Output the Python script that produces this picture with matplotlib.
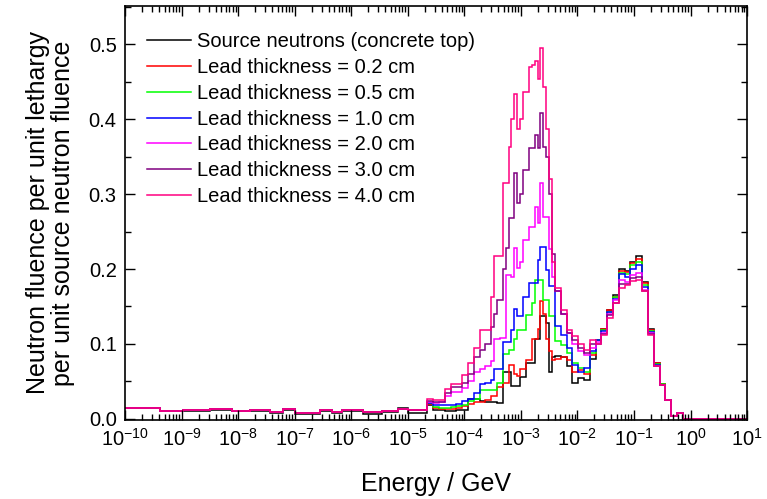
import numpy as np
import matplotlib
matplotlib.use('Agg')
import matplotlib.pyplot as plt
from matplotlib import ticker

plt.rcParams['font.family'] = ['Liberation Sans', 'DejaVu Sans']
plt.rcParams['mathtext.fontset'] = 'custom'
plt.rcParams['mathtext.rm'] = 'Liberation Sans'
plt.rcParams['mathtext.it'] = 'Liberation Sans:italic'
plt.rcParams['mathtext.bf'] = 'Liberation Sans:bold'

# bin edges as log10(E / GeV)
low_edges = [-10.0, -9.381, -8.973, -8.496, -8.106, -7.788, -7.434, -7.204,
             -6.991, -6.549, -6.336, -6.159, -5.788, -5.451, -5.168, -4.991]
peak_edges = [-4.655, -4.552, -4.450, -4.347, -4.244, -4.142, -4.039, -3.936,
              -3.834, -3.731, -3.628,
              -3.526, -3.475, -3.423, -3.372, -3.320, -3.269, -3.218, -3.166,
              -3.115, -3.064, -3.012, -2.961, -2.910, -2.858, -2.807, -2.756,
              -2.704, -2.653, -2.602, -2.550, -2.499, -2.448, -2.396,
              -2.294, -2.191, -2.088, -1.986, -1.883, -1.780, -1.678, -1.575,
              -1.472, -1.370, -1.267, -1.164, -1.062, -0.959, -0.856, -0.754,
              -0.651, -0.548, -0.446, -0.343, -0.240, -0.138, -0.035, 1.0]

# low energy part (below ~10^-4.7 GeV)
low_source = [0.014, 0.010, 0.011, 0.012, 0.010, 0.011, 0.008, 0.012,
              0.007, 0.011, 0.008, 0.010, 0.007, 0.009, 0.014, 0.008]
low_lead = [0.0147, 0.011, 0.0124, 0.0137, 0.011, 0.0124, 0.0097, 0.0137,
            0.0084, 0.0124, 0.0097, 0.0124, 0.0097, 0.011, 0.0137, 0.0124]

source = [0.019, 0.012, 0.012, 0.010, 0.010, 0.012, 0.012, 0.026, 0.026, 0.024, 0.023,
          0.023, 0.023, 0.021, 0.021, 0.062, 0.062, 0.062, 0.044, 0.044, 0.044, 0.056,
          0.056, 0.075, 0.075, 0.075, 0.106, 0.106, 0.137, 0.137, 0.128, 0.062, 0.083,
          0.084, 0.083, 0.070, 0.048, 0.055, 0.052, 0.080, 0.105, 0.120, 0.145, 0.165,
          0.200, 0.198, 0.210, 0.217, 0.183, 0.120, 0.075, 0.047, 0.025, 0.004, 0.008,
          0.0, 0.0]
lead_02 = [0.020, 0.014, 0.013, 0.013, 0.013, 0.014, 0.017, 0.020, 0.023, 0.023, 0.025,
           0.030, 0.030, 0.043, 0.043, 0.048, 0.048, 0.072, 0.072, 0.060, 0.057, 0.066,
           0.066, 0.079, 0.079, 0.106, 0.106, 0.120, 0.157, 0.140, 0.106, 0.090, 0.079,
           0.080, 0.083, 0.078, 0.062, 0.065, 0.060, 0.085, 0.105, 0.120, 0.145, 0.163,
           0.198, 0.196, 0.208, 0.214, 0.181, 0.118, 0.074, 0.046, 0.025, 0.004, 0.008,
           0.0, 0.0]
lead_05 = [0.021, 0.016, 0.015, 0.015, 0.016, 0.017, 0.019, 0.024, 0.027, 0.039, 0.039,
           0.039, 0.039, 0.048, 0.048, 0.086, 0.086, 0.092, 0.092, 0.106, 0.119, 0.119,
           0.119, 0.139, 0.139, 0.155, 0.186, 0.186, 0.186, 0.159, 0.159, 0.137, 0.137,
           0.104, 0.098, 0.088, 0.075, 0.068, 0.062, 0.088, 0.105, 0.118, 0.143, 0.162,
           0.195, 0.193, 0.205, 0.210, 0.179, 0.117, 0.073, 0.046, 0.025, 0.004, 0.008,
           0.0, 0.0]
lead_10 = [0.021, 0.018, 0.018, 0.019, 0.019, 0.020, 0.024, 0.027, 0.035, 0.046, 0.048,
           0.052, 0.066, 0.066, 0.066, 0.103, 0.103, 0.103, 0.119, 0.146, 0.137, 0.137,
           0.162, 0.162, 0.182, 0.182, 0.182, 0.212, 0.230, 0.230, 0.199, 0.177, 0.177,
           0.124, 0.112, 0.095, 0.072, 0.062, 0.068, 0.090, 0.105, 0.117, 0.142, 0.160,
           0.193, 0.190, 0.200, 0.205, 0.176, 0.116, 0.072, 0.045, 0.025, 0.004, 0.008,
           0.0, 0.0]
lead_20 = [0.022, 0.021, 0.022, 0.030, 0.036, 0.036, 0.041, 0.050, 0.062, 0.067, 0.070,
           0.077, 0.106, 0.106, 0.108, 0.108, 0.192, 0.192, 0.190, 0.228, 0.202, 0.210,
           0.239, 0.239, 0.256, 0.256, 0.283, 0.262, 0.315, 0.270, 0.270, 0.227, 0.190,
           0.170, 0.140, 0.115, 0.100, 0.090, 0.085, 0.095, 0.102, 0.115, 0.140, 0.158,
           0.185, 0.183, 0.192, 0.195, 0.172, 0.114, 0.070, 0.045, 0.025, 0.004, 0.008,
           0.0, 0.0]
lead_30 = [0.024, 0.023, 0.023, 0.035, 0.043, 0.043, 0.048, 0.060, 0.083, 0.092, 0.100,
           0.123, 0.140, 0.159, 0.159, 0.200, 0.228, 0.268, 0.268, 0.328, 0.288, 0.300,
           0.332, 0.332, 0.362, 0.362, 0.379, 0.362, 0.408, 0.363, 0.350, 0.300, 0.220,
           0.170, 0.140, 0.115, 0.105, 0.095, 0.088, 0.100, 0.100, 0.113, 0.138, 0.155,
           0.180, 0.180, 0.188, 0.190, 0.170, 0.113, 0.070, 0.045, 0.025, 0.004, 0.008,
           0.0, 0.0]
lead_40 = [0.027, 0.025, 0.025, 0.040, 0.046, 0.046, 0.058, 0.075, 0.095, 0.119, 0.119,
           0.163, 0.217, 0.217, 0.217, 0.315, 0.315, 0.363, 0.400, 0.434, 0.387, 0.400,
           0.436, 0.436, 0.469, 0.472, 0.478, 0.454, 0.495, 0.443, 0.387, 0.320, 0.210,
           0.175, 0.145, 0.118, 0.110, 0.100, 0.092, 0.105, 0.100, 0.112, 0.135, 0.155,
           0.175, 0.178, 0.184, 0.186, 0.170, 0.112, 0.070, 0.045, 0.025, 0.004, 0.008,
           0.0, 0.0]

labels = ['Source neutrons (concrete top)',
          'Lead thickness = 0.2 cm', 'Lead thickness = 0.5 cm',
          'Lead thickness = 1.0 cm', 'Lead thickness = 2.0 cm',
          'Lead thickness = 3.0 cm', 'Lead thickness = 4.0 cm']
colors = ['#000000', '#ff0000', '#00ff00', '#0000ff', '#ff00ff', '#800080', '#ff0080']
lows = [low_source] + [low_lead] * 6
series = [source, lead_02, lead_05, lead_10, lead_20, lead_30, lead_40]

edges = 10.0 ** np.array(low_edges + peak_edges)

fig = plt.figure(figsize=(7.67, 4.99), dpi=100)
ax = fig.add_axes([0.163, 0.1583, 0.811, 0.8297])

for lab, col, lo, vals in zip(labels, colors, lows, series):
    ax.stairs(lo + vals, edges, color=col, lw=1.1, label=lab, baseline=None)

ax.set_xscale('log')
ax.set_xlim(1e-10, 1e1)
ax.set_ylim(-0.0015, 0.551)

ax.xaxis.set_major_locator(ticker.LogLocator(base=10, numticks=20))
ax.xaxis.set_minor_locator(ticker.LogLocator(base=10, subs=np.arange(2, 10), numticks=200))
ax.xaxis.set_minor_formatter(ticker.NullFormatter())
ax.yaxis.set_major_locator(ticker.MultipleLocator(0.1))
ax.yaxis.set_minor_locator(ticker.MultipleLocator(0.05))
ax.yaxis.set_major_formatter(ticker.FormatStrFormatter('%.1f'))

ax.tick_params(which='both', direction='in', top=True, right=True, width=1.0)
ax.tick_params(which='major', length=7, labelsize=14.5, pad=6)
ax.tick_params(which='minor', length=4)
for s in ax.spines.values():
    s.set_linewidth(1.2)

ax.set_xlabel('Energy / GeV', fontsize=18, labelpad=16)
ax.set_ylabel('Neutron fluence per unit lethargy\nper unit source neutron fluence',
              fontsize=18, labelpad=10, linespacing=1.05)

ax.legend(loc='upper left', bbox_to_anchor=(0.0354, 0.937), frameon=False,
          fontsize=14.5, handlelength=2.2, handletextpad=0.3,
          labelspacing=0.34, borderpad=0, borderaxespad=0)

fig.savefig('out.png', dpi=100)
